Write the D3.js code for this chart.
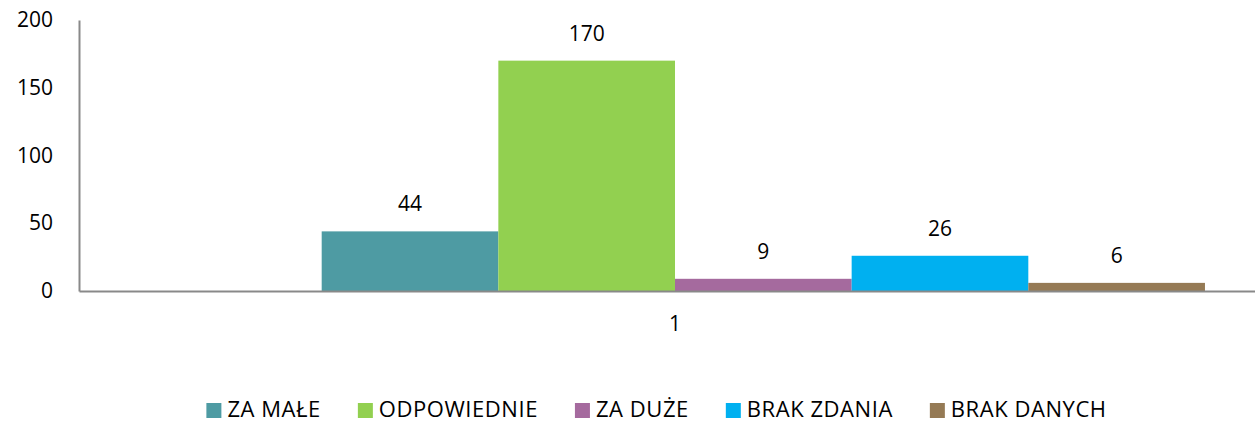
<!DOCTYPE html>
<html>
<head>
<meta charset="utf-8">
<script src="https://cdn.jsdelivr.net/npm/d3@7"></script>
<style>
  html, body { margin: 0; padding: 0; background: #fff; }
  svg { display: block; }
  text { font-family: "Open Sans", sans-serif; fill: #000; }
</style>
</head>
<body>
<svg id="chart" width="1255" height="422"></svg>
<script>
// ---- data ----
const categories = ["1"];
// first slot is an unnamed, empty series (reserves space, as in the source chart)
const seriesNames = ["", "ZA MAŁE", "ODPOWIEDNIE", "ZA DUŻE", "BRAK ZDANIA", "BRAK DANYCH"];
const seriesValues = [null, 44, 170, 9, 26, 6];
const seriesColors = ["none", "#4E9BA3", "#92D050", "#A56A9E", "#00B0F0", "#957A55"];
const yTicks = [0, 50, 100, 150, 200];

// ---- layout ----
const W = 1255, H = 422;
const plot = { left: 79, right: 1271, top: 20, bottom: 291 };
const svg = d3.select("#chart");

const y = d3.scaleLinear().domain([0, 200]).range([plot.bottom, plot.top]);
const x0 = d3.scaleBand().domain(categories).range([plot.left, plot.right])
  .paddingInner(0).paddingOuter(0.0623);
const x1 = d3.scaleBand().domain(d3.range(seriesNames.length)).range([0, x0.bandwidth()]).padding(0);

// bars
const rows = seriesValues.map((v, i) => ({ i, v, name: seriesNames[i], color: seriesColors[i] }))
  .filter(d => d.v != null);

const g = svg.append("g");
categories.forEach(cat => {
  const cg = g.append("g").attr("transform", `translate(${x0(cat)},0)`);
  cg.selectAll("rect").data(rows).join("rect")
    .attr("x", d => x1(d.i))
    .attr("y", d => y(d.v))
    .attr("width", x1.bandwidth())
    .attr("height", d => y(0) - y(d.v))
    .attr("fill", d => d.color);
  cg.selectAll("text.val").data(rows).join("text")
    .attr("class", "val")
    .attr("x", d => x1(d.i) + x1.bandwidth() / 2)
    .attr("y", d => y(d.v) - 20)
    .attr("text-anchor", "middle")
    .style("font-size", "21px")
    .text(d => d.v);
});

// y axis
const yAxis = d3.axisLeft(y).tickValues(yTicks).tickSize(0).tickPadding(26);
const ya = svg.append("g").attr("transform", `translate(${plot.left},0)`).call(yAxis);
ya.select(".domain").attr("stroke", "#898989").attr("stroke-width", 2);
ya.selectAll("text").style("font-size", "21px").style("font-family", "'Open Sans', sans-serif").attr("fill", "#000");

// x axis
const xAxis = d3.axisBottom(x0).tickSize(0).tickPadding(25);
const xa = svg.append("g").attr("transform", `translate(0,${plot.bottom})`).call(xAxis);
xa.select(".domain").attr("stroke", "#898989").attr("stroke-width", 2);
xa.selectAll("text").style("font-size", "21px").style("font-family", "'Open Sans', sans-serif").attr("fill", "#000");

// legend
const legendItems = rows;
const lg = svg.append("g");
let cx = 0;
const sq = 15, sqGap = 6, itemGap = 37;
legendItems.forEach(d => {
  const it = lg.append("g").attr("transform", `translate(${cx},0)`);
  it.append("rect").attr("x", 0).attr("y", 403).attr("width", sq).attr("height", sq).attr("fill", d.color);
  const t = it.append("text").attr("x", sq + sqGap).attr("y", 417)
    .style("font-size", "22px").style("letter-spacing", "0.55px").text(d.name);
  cx += sq + sqGap + t.node().getComputedTextLength() + itemGap;
});
const legendW = cx - itemGap;
lg.attr("transform", `translate(${656.5 - legendW / 2},0)`);
</script>
</body>
</html>
